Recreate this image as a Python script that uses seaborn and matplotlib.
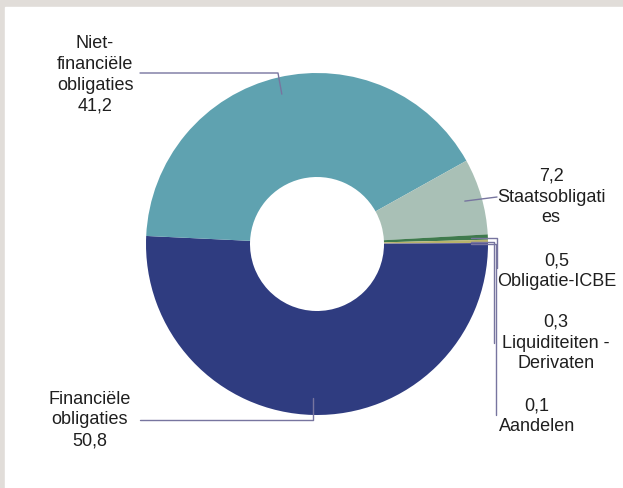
import numpy as np
import matplotlib
matplotlib.use("Agg")
import matplotlib.pyplot as plt
from matplotlib.patches import Rectangle
import seaborn as sns

# Data (order as drawn clockwise, starting at 3 o'clock)
labels = ["Financiële\nobligaties", "Niet-\nfinanciële\nobligaties", "Staatsobligati\nes",
          "Obligatie-ICBE", "Liquiditeiten -\nDerivaten", "Aandelen"]
values = [50.8, 41.2, 7.2, 0.5, 0.3, 0.1]
value_text = ["50,8", "41,2", "7,2", "0,5", "0,3", "0,1"]
colors = ["#2f3c80", "#5fa2b0", "#a9c0b6", "#3f7a4d", "#b8b36c", "#4f4f90"]

sns.set_theme(style="white")
plt.rcParams["font.family"] = ["Liberation Sans", "DejaVu Sans"]

W, H = 623, 488
fig = plt.figure(figsize=(W / 100, H / 100), dpi=100)
ax = fig.add_axes([0, 0, 1, 1])

# page frame (grey strip top and left)
fig.patches.append(Rectangle((0, 0), 1, 1, transform=fig.transFigure, color="#e1ddd9", zorder=-2))
fig.patches.append(Rectangle((5 / W, 0), 1, 1 - 7 / H, transform=fig.transFigure, color="white", zorder=-1))

cx, cy = 317, H - 244
R = 171
wedges, _ = ax.pie(values, colors=sns.color_palette(colors), startangle=0, counterclock=False,
                   radius=R, center=(cx, cy), frame=True,
                   wedgeprops=dict(width=104, linewidth=0))

ax.set_xlim(0, W)
ax.set_ylim(0, H)
ax.set_aspect("equal")
ax.axis("off")

line_c = "#77759f"
txt_c = "#1f1f1f"


def anchor(w, f=0.9):
    a = np.deg2rad((w.theta1 + w.theta2) / 2)
    return cx + f * R * np.cos(a), cy + f * R * np.sin(a)


def Y(y):
    return H - y


# leader paths (label side points in image pixels)
ax0, ay0 = anchor(wedges[0])
ax.plot([ax0, ax0, 140], [ay0, Y(420), Y(420)], color=line_c, lw=1)
ax1, ay1 = anchor(wedges[1])
ax.plot([ax1, 278, 140], [ay1, Y(73), Y(73)], color=line_c, lw=1)
ax2, ay2 = anchor(wedges[2])
ax.plot([ax2, 497], [ay2, Y(197)], color=line_c, lw=1)
for w, xv, yend in [(wedges[3], 497, 268), (wedges[4], 494, 343), (wedges[5], 496, 415)]:
    px, py = anchor(w)
    ax.plot([px, xv, xv], [py, py, Y(yend)], color=line_c, lw=1)

fs = 13
ls = 1.3
ax.text(95, Y(75), labels[1] + "\n" + value_text[1], ha="center", va="center",
        fontsize=fs, color=txt_c, linespacing=ls)
ax.text(90, Y(420), labels[0] + "\n" + value_text[0], ha="center", va="center",
        fontsize=fs, color=txt_c, linespacing=ls)
ax.text(551, Y(197), value_text[2] + "\n" + labels[2], ha="center", va="center",
        fontsize=fs, color=txt_c, linespacing=ls)
ax.text(557, Y(271), value_text[3] + "\n" + labels[3], ha="center", va="center",
        fontsize=fs, color=txt_c, linespacing=ls)
ax.text(556, Y(343), value_text[4] + "\n" + labels[4], ha="center", va="center",
        fontsize=fs, color=txt_c, linespacing=ls)
ax.text(537, Y(416), value_text[5] + "\n" + labels[5], ha="center", va="center",
        fontsize=fs, color=txt_c, linespacing=ls)

fig.savefig("out.png", dpi=100)
